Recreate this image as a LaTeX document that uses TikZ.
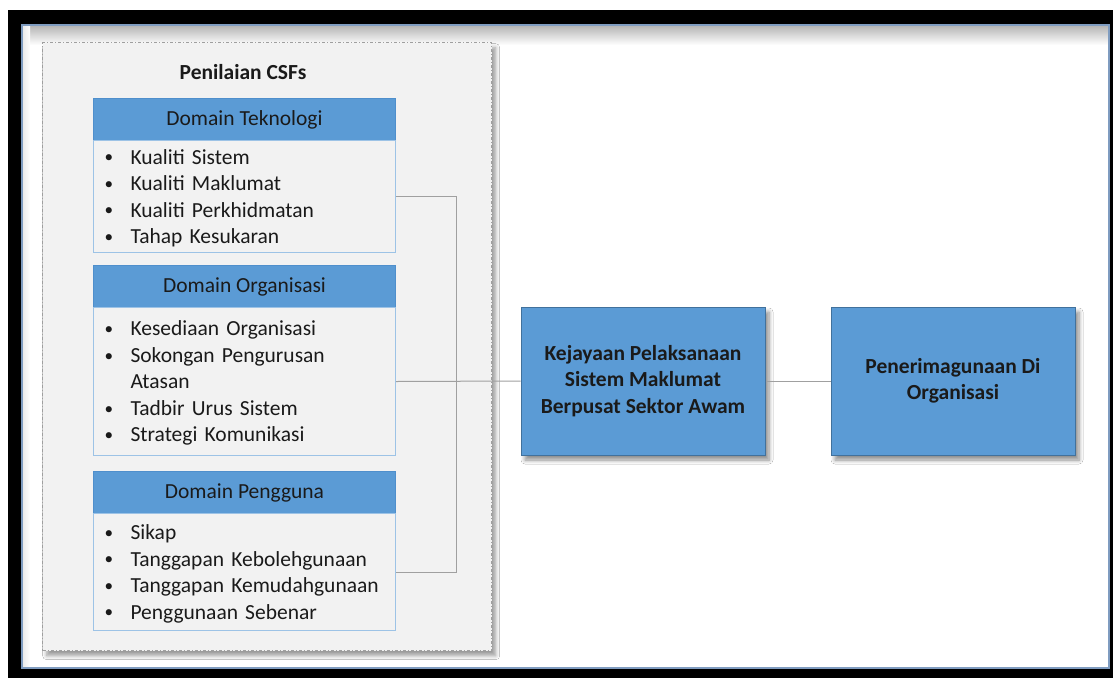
\documentclass[tikz,border=0pt]{standalone}
\usepackage{fontspec}
\setmainfont{Carlito}
\usetikzlibrary{shadows.blur}
\definecolor{boxblue}{HTML}{5B9BD5}
\definecolor{boxedge}{HTML}{41719C}
\definecolor{headedge}{HTML}{4F8FCC}
\definecolor{bodyedge}{HTML}{9DC3E6}
\definecolor{panelfill}{HTML}{F2F2F2}
\definecolor{txt}{HTML}{1A1A1A}
\definecolor{linkgray}{HTML}{A0A0A0}
\definecolor{frameblue}{HTML}{7F9CC0}
\newcommand{\bodyfnt}{\fontsize{21.5}{26.5}\selectfont}
\newcommand{\bul}{\raisebox{0.12ex}{\scalebox{0.8}{\textbullet}}}
\newcommand{\lowered}[1]{\raisebox{-2pt}[\height][\depth]{#1}}
\begin{document}
\begin{tikzpicture}[x=1pt,y=-1pt,
  header/.style={draw=headedge, line width=1pt, fill=boxblue, minimum width=302pt,
    minimum height=42pt, inner sep=0pt, anchor=north west, font=\bodyfnt, text=txt},
  bodybox/.style={draw=bodyedge, fill=panelfill, line width=1pt, minimum width=302pt,
    text width=280pt, inner xsep=11pt, inner ysep=0pt, align=left,
    anchor=north west, font=\bodyfnt, text=txt},
  bigbox/.style={draw=boxedge, fill=boxblue, line width=1pt, minimum width=244pt,
    minimum height=148pt, inner sep=0pt, align=center, text=txt,
    font=\bfseries\bodyfnt,
    blur shadow={shadow xshift=4pt, shadow yshift=-5pt, shadow blur steps=6, shadow blur radius=4pt, shadow opacity=45}},
  panel/.style={draw=gray!75, fill=panelfill, line width=1.3pt,
    dash pattern=on 3pt off 2pt on 1pt off 2pt, inner sep=0pt, anchor=north west,
    blur shadow={shadow xshift=4pt, shadow yshift=-5pt, shadow blur steps=6, shadow blur radius=4pt, shadow opacity=40}},
  link/.style={draw=linkgray, line width=1pt}
]
\useasboundingbox (0,0) rectangle (1113,678);
% outer frame
\fill[white] (0,0) rectangle (1113,678);
\fill[black] (8,10) rectangle (1113,678);
\fill[white] (22,25) rectangle (1109,668);
\shade[top color=gray!60, bottom color=white] (22,25) rectangle (1109,45);
\shade[left color=gray!18, right color=white] (22,25) rectangle (30,668);
\draw[frameblue, line width=1.2pt] (22,25) rectangle (1109,668);

% panel
\node[panel, minimum width=449pt, minimum height=608pt] (panel) at (42,42) {};
\node[font=\bfseries\bodyfnt, text=txt] (title) at (243,72) {Penilaian CSFs};

% Domain Teknologi
\node[header] (h1) at (93,98) {Domain Teknologi};
\node[bodybox, minimum height=112pt] (b1) at (93,140) {\lowered{%
\begin{tabular}{@{}p{26pt}@{}l@{}}
\bul & Kualiti Sistem\\
\bul & Kualiti Maklumat\\
\bul & Kualiti Perkhidmatan\\
\bul & Tahap Kesukaran
\end{tabular}}};

% Domain Organisasi
\node[header] (h2) at (93,265) {Domain Organisasi};
\node[bodybox, minimum height=148pt] (b2) at (93,307) {\lowered{%
\begin{tabular}{@{}p{26pt}@{}l@{}}
\bul & Kesediaan Organisasi\\
\bul & Sokongan Pengurusan\\
 & Atasan\\
\bul & Tadbir Urus Sistem\\
\bul & Strategi Komunikasi
\end{tabular}}};

% Domain Pengguna
\node[header] (h3) at (93,471) {Domain Pengguna};
\node[bodybox, minimum height=117pt] (b3) at (93,513) {\lowered{%
\begin{tabular}{@{}p{26pt}@{}l@{}}
\bul & Sikap\\
\bul & Tanggapan Kebolehgunaan\\
\bul & Tanggapan Kemudahgunaan\\
\bul & Penggunaan Sebenar
\end{tabular}}};

% right boxes
\node[bigbox] (kej) at (643,381) {Kejayaan Pelaksanaan\\Sistem Maklumat\\Berpusat Sektor Awam};
\node[bigbox] (pen) at (953,381) {Penerimagunaan Di\\Organisasi};

% connectors
\draw[link] (b1.east) -- ++(60,0) coordinate (jt) |- (b3.east);
\draw[link] (b2.east) -- (kej.west);
\draw[link] (kej.east) -- (pen.west);
\end{tikzpicture}
\end{document}
